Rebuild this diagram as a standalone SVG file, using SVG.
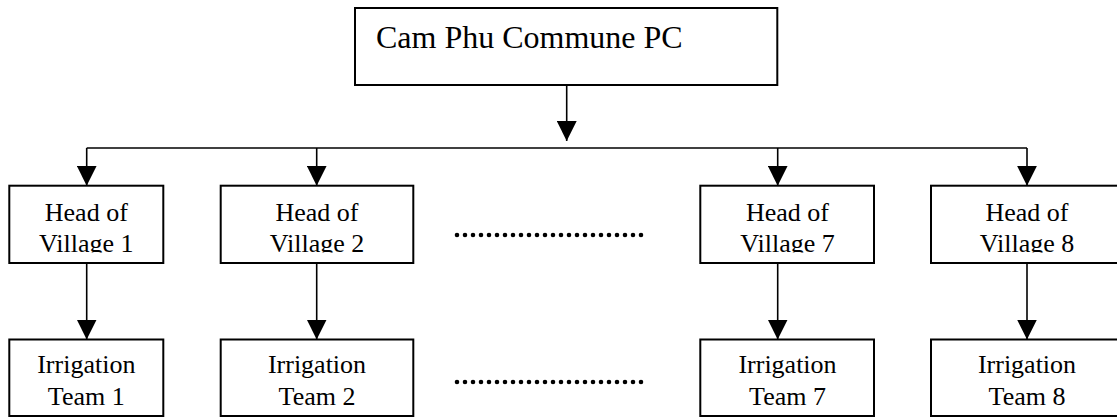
<svg xmlns="http://www.w3.org/2000/svg" width="1117" height="417" viewBox="0 0 1117 417">
<style>
.box{fill:#fff;stroke:#000;stroke-width:2}
.t{font-family:"Liberation Serif","Times New Roman",serif;font-size:26px;fill:#000;text-anchor:middle}
.tt{font-family:"Liberation Serif","Times New Roman",serif;font-size:32px;fill:#000}
.c{fill:none;stroke:#000;stroke-width:1.6}
.dots{fill:none;stroke:#000;stroke-width:4.6;stroke-linecap:round;stroke-dasharray:0 8}
</style>
<defs>
<marker id="ah" viewBox="0 0 20 20" refX="20" refY="10" markerWidth="20" markerHeight="20" markerUnits="userSpaceOnUse" orient="auto">
<path d="M0,0 L20,10 L0,20 z" fill="#000"/>
</marker>
<clipPath id="clip2"><rect x="0" y="186" width="1117" height="66.5"/></clipPath>
</defs>
<g id="connectors">
<line class="c" x1="566.7" y1="85" x2="566.7" y2="141" marker-end="url(#ah)"/>
<line class="c" x1="86.7" y1="148" x2="1027" y2="148"/>
<line class="c" x1="86.7" y1="148" x2="86.7" y2="185.7" marker-end="url(#ah)"/>
<line class="c" x1="316.7" y1="148" x2="316.7" y2="185.7" marker-end="url(#ah)"/>
<line class="c" x1="777.7" y1="148" x2="777.7" y2="185.7" marker-end="url(#ah)"/>
<line class="c" x1="1027" y1="148" x2="1027" y2="185.7" marker-end="url(#ah)"/>
<line class="c" x1="86.7" y1="263" x2="86.7" y2="339.5" marker-end="url(#ah)"/>
<line class="c" x1="316.7" y1="263" x2="316.7" y2="339.5" marker-end="url(#ah)"/>
<line class="c" x1="777.7" y1="263" x2="777.7" y2="339.5" marker-end="url(#ah)"/>
<line class="c" x1="1027" y1="263" x2="1027" y2="339.5" marker-end="url(#ah)"/>
</g>
<g id="top">
<rect class="box" x="355" y="8" width="422.3" height="77"/>
<text class="tt" x="376" y="48">Cam Phu Commune PC</text>
</g>
<g id="head1">
<rect class="box" x="9.3" y="185.7" width="154" height="77.3"/>
<g clip-path="url(#clip2)"><text class="t" x="86.3" y="221">Head of</text><text class="t" x="86.3" y="252">Village 1</text></g>
</g>
<g id="head2">
<rect class="box" x="220.7" y="185.7" width="192.6" height="77.3"/>
<g clip-path="url(#clip2)"><text class="t" x="317" y="221">Head of</text><text class="t" x="317" y="252">Village 2</text></g>
</g>
<g id="head7">
<rect class="box" x="700.3" y="185.7" width="173.7" height="77.3"/>
<g clip-path="url(#clip2)"><text class="t" x="787.5" y="221">Head of</text><text class="t" x="787.5" y="252">Village 7</text></g>
</g>
<g id="head8">
<rect class="box" x="931" y="185.7" width="192" height="77.3"/>
<g clip-path="url(#clip2)"><text class="t" x="1027" y="221">Head of</text><text class="t" x="1027" y="252">Village 8</text></g>
</g>
<g id="team1">
<rect class="box" x="9.3" y="339.5" width="154" height="76.5"/>
<text class="t" x="86.3" y="373.3">Irrigation</text><text class="t" x="86.3" y="405">Team 1</text>
</g>
<g id="team2">
<rect class="box" x="220.7" y="339.5" width="192.6" height="76.5"/>
<text class="t" x="317" y="373.3">Irrigation</text><text class="t" x="317" y="405">Team 2</text>
</g>
<g id="team7">
<rect class="box" x="700.3" y="339.5" width="173.7" height="76.5"/>
<text class="t" x="787.5" y="373.3">Irrigation</text><text class="t" x="787.5" y="405">Team 7</text>
</g>
<g id="team8">
<rect class="box" x="931" y="339.5" width="192" height="76.5"/>
<text class="t" x="1027" y="373.3">Irrigation</text><text class="t" x="1027" y="405">Team 8</text>
</g>
<g id="ellipsis">
<line class="dots" x1="457" y1="235" x2="641.5" y2="235"/>
<line class="dots" x1="457" y1="382" x2="641.5" y2="382"/>
</g>
</svg>
